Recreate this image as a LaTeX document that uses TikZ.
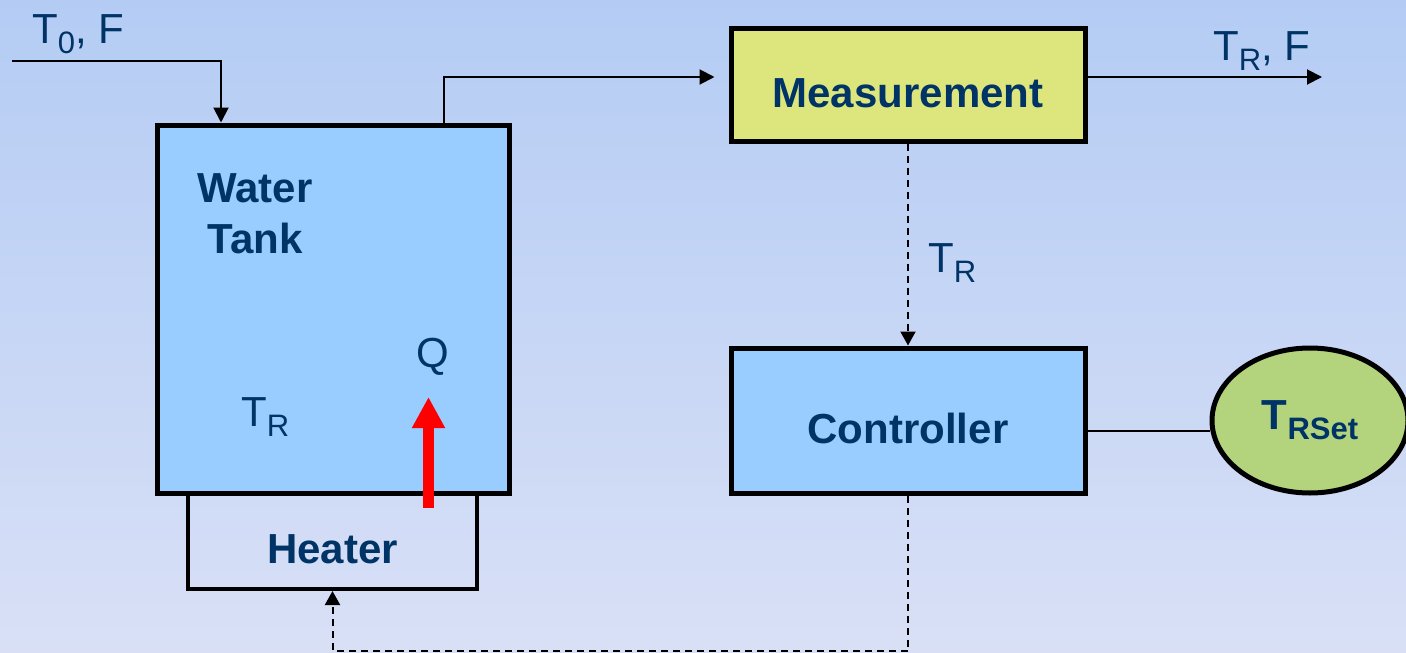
\documentclass[tikz,border=0pt]{standalone}
\usepackage{fontspec}
\setmainfont{Liberation Sans}
\usetikzlibrary{arrows.meta,shapes.geometric}

\definecolor{bgtop}{RGB}{180,204,244}
\definecolor{bgbot}{RGB}{217,224,246}
\definecolor{tankblue}{RGB}{153,204,255}
\definecolor{measyellow}{RGB}{221,230,124}
\definecolor{setgreen}{RGB}{179,212,125}
\definecolor{labelnavy}{RGB}{0,51,102}

\newcommand{\lowidx}[1]{\raisebox{-10pt}{\fontsize{31}{31}\selectfont #1}}

\begin{document}
\begin{tikzpicture}[
    x=1pt, y=-1pt,
    font=\fontsize{42}{51}\selectfont,
    block/.style={draw, line width=5pt, inner sep=0pt, text=labelnavy,
        font=\fontsize{42}{51}\selectfont\bfseries, text height=45pt, text depth=0pt},
    tankbox/.style={block, fill=tankblue},
    measbox/.style={block, fill=measyellow},
    heatbox/.style={block, line width=4pt},
    setbox/.style={ellipse, draw, line width=5pt, fill=setgreen, inner sep=0pt,
        text=labelnavy, font=\fontsize{42}{51}\selectfont\bfseries},
    lbl/.style={text=labelnavy, inner sep=0pt},
    flow/.style={-{Triangle[length=15pt,width=15pt]}, line width=2pt},
    signal/.style={-{Triangle[length=14pt,width=15pt]}, line width=2pt, dash pattern=on 7pt off 5pt},
    heat/.style={-{Triangle[length=31pt,width=31pt]}, line width=10.5pt, red}
]
\useasboundingbox (0,0) rectangle (1406,653);
\fill[top color=bgtop, bottom color=bgbot] (0,0) rectangle (1406,653);

% blocks
\node[heatbox, minimum width=289pt, minimum height=96pt] (heater) at (332.5,541) {Heater};
\node[tankbox, minimum width=352pt, minimum height=368pt] (tank) at (333,309) {};
\node[measbox, minimum width=354pt, minimum height=113pt] (meas) at (908,84.5) {Measurement};
\node[tankbox, minimum width=354pt, minimum height=145pt] (ctrl) at (908,420.5) {Controller};
\node[setbox, minimum width=196pt, minimum height=145pt] (setpt) at (1310,420.5) {T\lowidx{RSet}};

% texts
\node[lbl, font=\fontsize{42}{51}\selectfont\bfseries, align=center, anchor=north] (tanklbl) at (255,173) {Water\\Tank};
\node[lbl, anchor=base] (qlbl) at (433,367) {Q};
\node[lbl, anchor=base west] (trtank) at (241,426) {T\lowidx{R}};
\node[lbl, anchor=base west] (feedlbl) at (32,43) {T\lowidx{0}, F};
\node[lbl, anchor=base west] (prodlbl) at (1213,60) {T\lowidx{R}, F};
\node[lbl, anchor=base west] (trsig) at (928,272) {T\lowidx{R}};

% streams
\coordinate (feed) at (12,60.5);
\coordinate (prod) at (1322,77);
\draw[flow] (feed) -| ([xshift=-112pt]tank.north);
\draw[flow, shorten >=14pt] ([xshift=111pt]tank.north) |- ([yshift=7.5pt]meas.west);
\draw[flow] (prod -| meas.east) -- (prod);

% control loop
\draw[signal] (meas) -- (ctrl);
\draw[line width=2pt] (setpt.186) -- (setpt.186 -| ctrl.east);
\draw[signal] (ctrl.south) -- ++(0,155.5) -| (heater.south);

% heat input
\coordinate (qbot) at (428.5,508);
\coordinate (qtop) at (428.5,397);
\draw[heat] (qbot) -- (qtop);
\end{tikzpicture}
\end{document}
